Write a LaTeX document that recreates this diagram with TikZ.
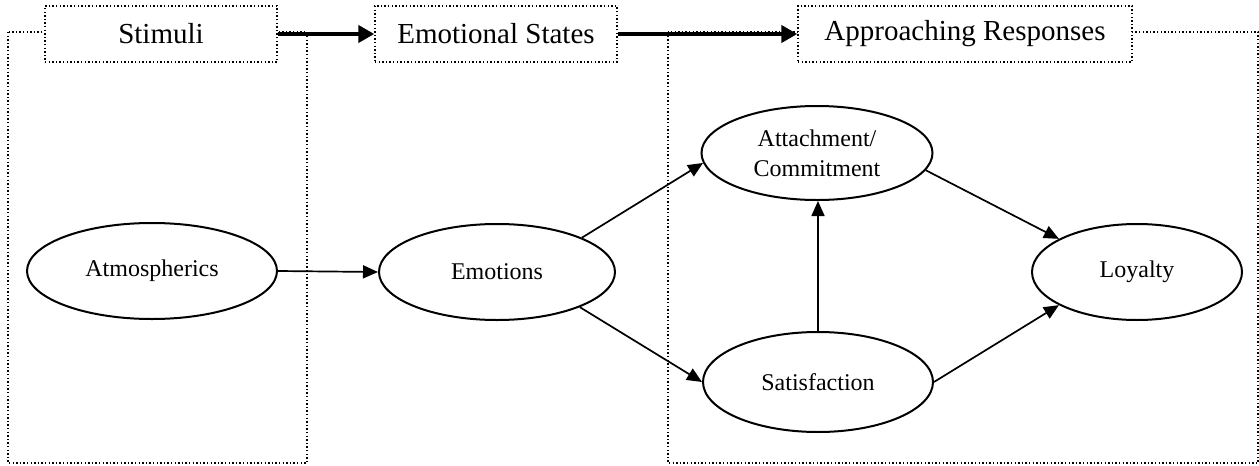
\documentclass[tikz,border=0pt]{standalone}
\usepackage{fontspec}
\setmainfont{Liberation Serif}
\usetikzlibrary{shapes.geometric,arrows.meta}

\begin{document}
\begin{tikzpicture}[x=1pt,y=-1pt,
  dotline/.style={line width=1.4pt,dash pattern=on 1.4pt off 2.2pt},
  header/.style={dotline,fill=white,minimum height=56pt,inner sep=0pt,
    font=\fontsize{29}{34}\selectfont},
  oval/.style={ellipse,draw,line width=2pt,inner sep=0pt,
    font=\fontsize{24}{30}\selectfont,align=center},
  link/.style={line width=1.7pt,-{Triangle[length=15pt,width=13pt]}},
  bigarrow/.style={line width=4.5pt,-{Triangle[length=16pt,width=17pt]}}
]
\useasboundingbox (0,0) rectangle (1259,466);

% stage frames
\draw[dotline] (8,32) rectangle (307,463);
\draw[dotline] (668,32) rectangle (1258,463);

% stage headers
\node[header,draw,minimum width=232pt] (stim) at (161,34) {Stimuli};
\node[header,draw,minimum width=242pt] (emst) at (496,34) {Emotional States};
\node[header,draw,minimum width=334pt] (appr) at (965,34) {Approaching Responses};

\draw[bigarrow] (stim.east) -- (emst.west);
\draw[bigarrow] (emst.east) -- (appr.west);

% constructs
\node[oval,minimum width=250pt,minimum height=96pt] (atm) at (152,271) {Atmospherics};
\node[oval,minimum width=236pt,minimum height=96pt] (emo) at (497,272) {Emotions};
\node[oval,minimum width=231pt,minimum height=94pt] (att) at (817,153) {Attachment/\\Commitment};
\node[oval,minimum width=230pt,minimum height=100pt] (sat) at (818,382) {Satisfaction};
\node[oval,minimum width=210pt,minimum height=96pt] (loy) at (1137,272) {Loyalty};

% paths
\draw[link] (atm.east) -- (emo.west);
\draw[link] (emo.22) -- (att.185);
\draw[link] (emo.-23) -- (sat.west);
\draw[link] (sat.north) -- (sat.north |- att.south);
\draw[link] (att.-9) -- (loy.157);
\draw[link] (sat.east) -- (loy.203);
\end{tikzpicture}
\end{document}
